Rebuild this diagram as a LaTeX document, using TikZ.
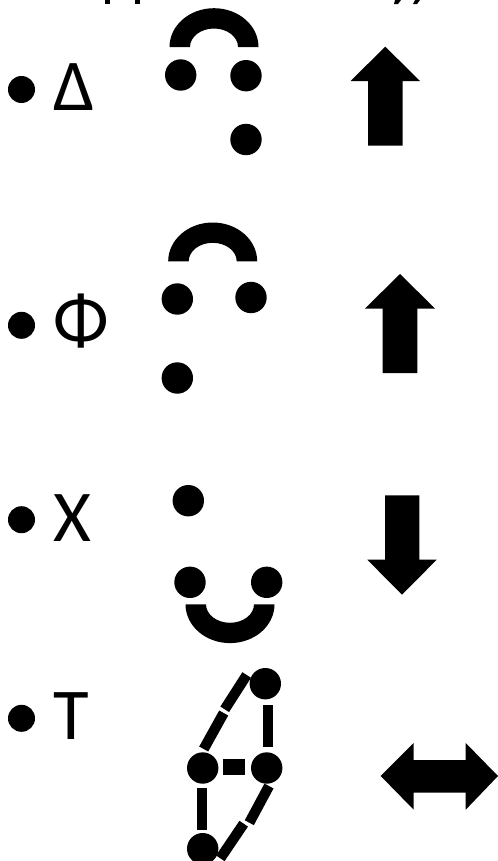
\documentclass[tikz,border=0pt]{standalone}
\usepackage{fontspec}
\setmainfont{Carlito}
\begin{document}
\begin{tikzpicture}[x=1bp,y=-1bp,
  dot/.style={circle,fill=black,inner sep=0pt,minimum size=31.4bp},
  bullet/.style={circle,fill=black,inner sep=0pt,minimum size=27bp},
  letter/.style={inner sep=0pt,anchor=base west,font=\fontsize{73bp}{73bp}\selectfont},
  bond/.style={line width=10.3bp,line cap=butt},
  block/.style={fill=black,draw=none}]
\useasboundingbox (0,0) rectangle (498,861);
\newcommand{\lonepair}[3]{% centre x, flat y, sign
  \fill[black] (#1-44.5,#2) arc[start angle=180,end angle=0,x radius=44.5,y radius=#3*38.8]
     -- (#1+24,#2) arc[start angle=0,end angle=180,x radius=24,y radius=#3*18.5] -- cycle;}
% clipped line of text at the top edge
\fill[black] (105,0) rectangle (110,4);
\fill[black] (135,0) rectangle (139.5,4);
\fill[black] (395,0) -- (401,0) -- (398,4) -- (394,4) -- cycle;
\fill[black] (415,0) -- (420,0) -- (417,4) -- (413,4) -- cycle;
% Delta row
\node[bullet] (b1) at (21.5,89.5) {};
\node[letter] (l1) at (53,110) {Δ};
\lonepair{214}{47}{-1}
\node[dot] (a1) at (180.7,75) {};
\node[dot] (a2) at (246,75.7) {};
\node[dot] (a3) at (246,139.5) {};
\path[block] (385.3,46.7) -- (420,81) -- (402.5,81) -- (402.5,145.7) -- (368,145.7) -- (368,81) -- (350.5,81) -- cycle;
% Phi row
\node[bullet] (b2) at (21.5,325.3) {};
\node[letter] (l2) at (53,344) {Φ};
\lonepair{212.7}{261.3}{-1}
\node[dot] (c1) at (177.3,299) {};
\node[dot] (c2) at (251,297.5) {};
\node[dot] (c3) at (177.3,378) {};
\path[block] (400,274) -- (435,308.5) -- (417.3,308.5) -- (417.3,373) -- (382.7,373) -- (382.7,308.5) -- (365,308.5) -- cycle;
% X row
\node[bullet] (b3) at (21.5,519.7) {};
\node[letter] (l3) at (53,541) {X};
\node[dot] (d1) at (188.3,500.7) {};
\node[dot] (d2) at (190,582.3) {};
\node[dot] (d3) at (266.7,582.3) {};
\lonepair{230}{604.3}{1}
\path[block] (402,594.7) -- (436.7,559.7) -- (419.3,559.7) -- (419.3,495.3) -- (385,495.3) -- (385,559.7) -- (367.3,559.7) -- cycle;
% T row
\node[bullet] (b4) at (21.5,718.3) {};
\node[letter] (l4) at (53,739) {T};
\node[dot] (e1) at (265.3,683.7) {};
\node[dot] (e2) at (202.7,768) {};
\node[dot] (e3) at (266.7,768) {};
\node[dot] (e4) at (202.7,848.7) {};
\coordinate (r1) at (267.8,705); \coordinate (r2) at (267.8,747);
\draw[bond] (r1) -- (r2);
\coordinate (h1) at (223,767); \coordinate (h2) at (245,767);
\draw[line width=15.4bp] (h1) -- (h2);
\coordinate (v1) at (201.8,788); \coordinate (v2) at (201.8,830);
\draw[bond] (v1) -- (v2);
\coordinate (s1) at (246.7,675); \coordinate (s2) at (224.7,709.3);
\coordinate (s3) at (223.7,713); \coordinate (s4) at (203.7,749);
\coordinate (s5) at (269,786); \coordinate (s6) at (249.3,822.7);
\coordinate (s7) at (243.7,823.7); \coordinate (s8) at (220.3,858.3);
\draw[bond] (s1) -- (s2);
\draw[bond] (s3) -- (s4);
\draw[bond] (s5) -- (s6);
\draw[bond] (s7) -- (s8);
\path[block] (380.7,776) -- (413.7,743) -- (413.7,760) -- (465.7,760) -- (465.7,743) -- (498,776) -- (465.7,809.7) -- (465.7,792.7) -- (413.7,792.7) -- (413.7,809.7) -- cycle;
\end{tikzpicture}
\end{document}
